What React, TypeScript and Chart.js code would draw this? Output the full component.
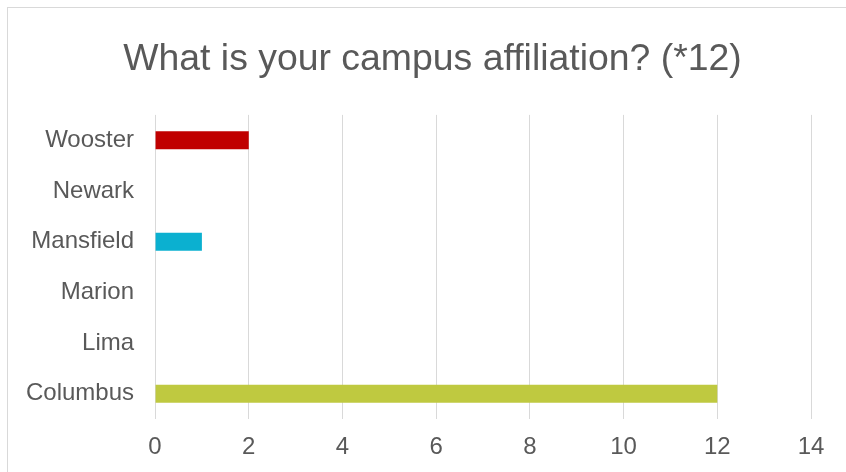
import React, { useEffect, useRef } from "react";
import { Chart, registerables } from "chart.js";

Chart.register(...registerables);

const categories = ["Wooster", "Newark", "Mansfield", "Marion", "Lima", "Columbus"];
const responses = [2, 0, 1, 0, 0, 12];
const barColors = ["#C00000", "#C00000", "#0BB0D0", "#0BB0D0", "#BFC940", "#BFC940"];
const titleText = "What is your campus affiliation? (*12)";
const xMin = 0;
const xMax = 14;
const xStep = 2;

// Centre the title over the whole frame (as in the original), not the padded area.
const titleCenterPlugin = {
  id: "titleCenter",
  afterLayout(chart: any) {
    const t = chart.titleBlock;
    if (t) {
      t.left = 19;
      t.right = chart.width;
      t.width = t.right - t.left;
    }
  },
};

export default function App() {
  const ref = useRef<HTMLCanvasElement | null>(null);

  useEffect(() => {
    if (!ref.current) return;
    const chart = new Chart(ref.current, {
      type: "bar",
      data: {
        labels: categories,
        datasets: [
          {
            data: responses,
            backgroundColor: barColors,
            borderWidth: 0,
            barPercentage: 0.356,
            categoryPercentage: 1,
          },
        ],
      },
      plugins: [titleCenterPlugin],
      options: {
        indexAxis: "y",
        animation: false,
        responsive: false,
        maintainAspectRatio: false,
        layout: { padding: { left: 5, right: 35, top: 0, bottom: -4 } },
        plugins: {
          legend: { display: false },
          tooltip: { enabled: false },
          title: {
            display: true,
            text: titleText,
            color: "#595959",
            font: { family: "'Liberation Sans', Arial, sans-serif", size: 37.4, weight: "normal" },
            padding: { top: 37, bottom: 33 },
          },
        },
        scales: {
          x: {
            min: xMin,
            max: xMax,
            ticks: {
              stepSize: xStep,
              color: "#595959",
              padding: 14,
              font: { family: "'Liberation Sans', Arial, sans-serif", size: 24 },
            },
            grid: { color: "#D9D9D9", lineWidth: 1, drawTicks: false },
            border: { display: false },
          },
          y: {
            ticks: {
              color: "#595959",
              padding: 21,
              font: { family: "'Liberation Sans', Arial, sans-serif", size: 24 },
            },
            grid: { display: false, drawTicks: false },
            border: { display: false },
          },
        },
      },
    });
    return () => chart.destroy();
  }, []);

  return (
    <div style={{ position: "fixed", left: 0, top: 0, width: 846, height: 472, background: "#fff" }}>
      <div
        style={{
          position: "absolute",
          left: 7,
          top: 7,
          width: 850,
          height: 480,
          borderLeft: "1px solid #D9D9D9",
          borderTop: "1px solid #D9D9D9",
        }}
      />
      <canvas ref={ref} width={846} height={472} style={{ position: "absolute", left: 0, top: 0 }} />
    </div>
  );
}
